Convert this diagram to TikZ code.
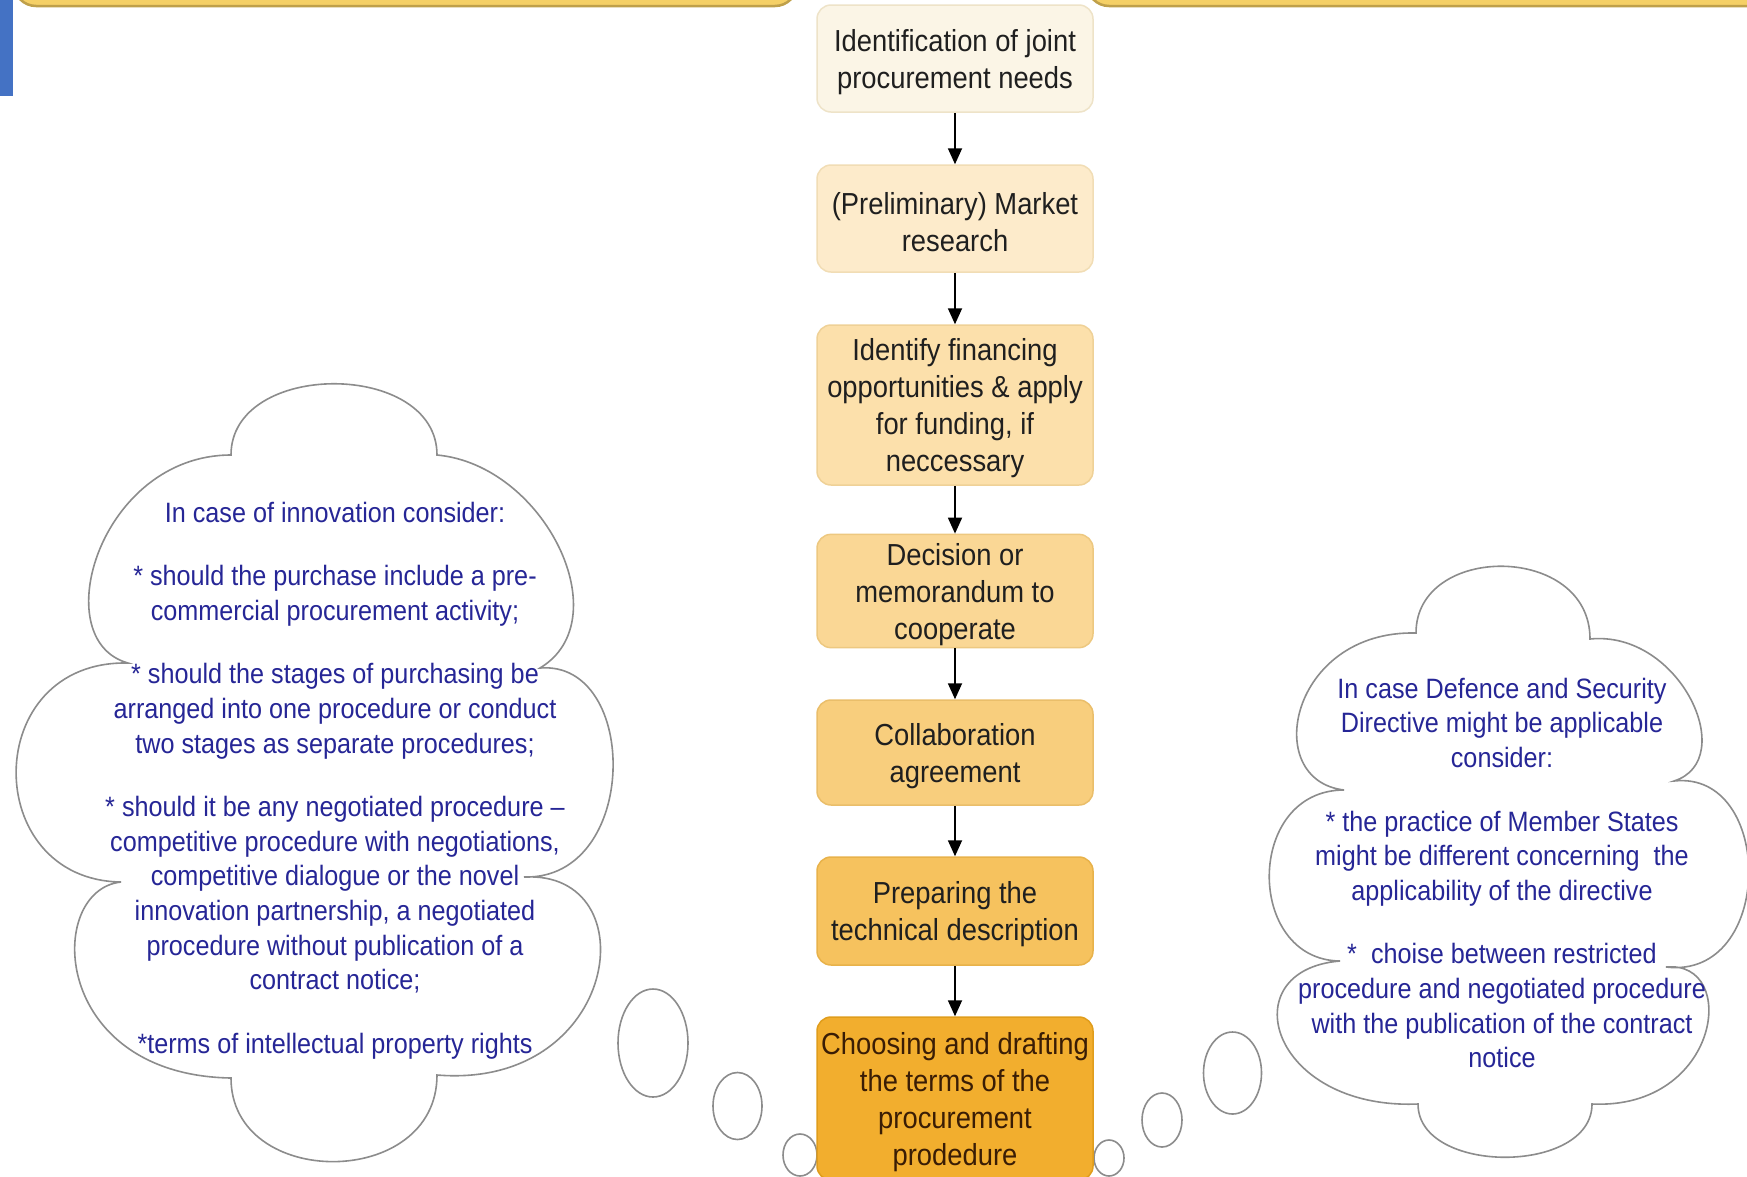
\documentclass[tikz,border=0pt]{standalone}
\usepackage{fontspec}
\setmainfont{Liberation Sans}[FakeStretch=0.9]
\usetikzlibrary{arrows.meta}

% step fills, lightest at the top, darkest at the bottom
\definecolor{fa}{HTML}{FBF5E6}\definecolor{da}{HTML}{EEE3C8}
\definecolor{fb}{HTML}{FDEBCB}\definecolor{db}{HTML}{F1DDB5}
\definecolor{fc}{HTML}{FCE0AB}\definecolor{dc}{HTML}{EFD197}
\definecolor{fd}{HTML}{FAD795}\definecolor{dd}{HTML}{EDC880}
\definecolor{fe}{HTML}{F8CE7D}\definecolor{de}{HTML}{EABE6A}
\definecolor{ff}{HTML}{F6C25E}\definecolor{df}{HTML}{E8B24A}
\definecolor{fg}{HTML}{F2AE2E}\definecolor{dg}{HTML}{E09D1C}
\definecolor{boxtext}{HTML}{1F1F1F}
\definecolor{lasttext}{HTML}{3A1D05}
\definecolor{noteblue}{RGB}{38,38,150}
\definecolor{cloudgray}{HTML}{8C8C8C}
\definecolor{bandgold}{HTML}{F5D066}
\definecolor{bandedge}{HTML}{BFA04A}
\definecolor{blueside}{HTML}{4472C4}

\newcommand{\bxfont}{\fontsize{30.4}{37}\selectfont}
\newcommand{\ntfont}{\fontsize{28}{34.6}\selectfont}
% strut that sets the height of the first line in a step box
\newcommand{\tp}{\rule{0pt}{29pt}}

\begin{document}
\begin{tikzpicture}[x=1pt,y=-1pt,
  stepbox/.style={draw, rounded corners=14pt, line width=1.5pt,
    minimum width=276pt, inner sep=2pt, align=center, font=\bxfont, text=boxtext},
  flow/.style={-{Triangle[length=16pt,width=14pt]}, line width=1.8pt, black},
  cloudline/.style={draw=cloudgray, line width=1.6pt, fill=white},
  note/.style={align=center, font=\ntfont, text=noteblue, inner sep=0pt},
  bubble/.style={draw=cloudgray, line width=1.6pt, fill=white}]

\useasboundingbox (0,0) rectangle (1747,1176);
\clip (0,0) rectangle (1747,1176);
\fill[white] (0,0) rectangle (1747,1176);

% gold bars along the top edge and the blue tab at the left
\draw[fill=bandgold, draw=bandedge, line width=2.5pt, rounded corners=22pt]
  (14,-60) rectangle (797,6);
\draw[fill=bandgold, draw=bandedge, line width=2.5pt, rounded corners=22pt]
  (1087,-60) rectangle (1790,6);
\fill[blueside] (0,0) rectangle (13,96);

% left thought cloud
\draw[cloudline] (231,455) .. controls (231,360) and (437,360) .. (437,455)
  .. controls (545,465) and (620,620) .. (540,668)
  .. controls (640,660) and (640,880) .. (524,877)
  .. controls (650,870) and (620,1090) .. (437,1075)
  .. controls (437,1190) and (231,1190) .. (231,1078)
  .. controls (50,1075) and (45,890) .. (121,882)
  .. controls (-20,880) and (-20,660) .. (128,663)
  .. controls (45,640) and (100,455) .. (231,455) -- cycle;

% right thought cloud
\draw[cloudline] (1416,633) .. controls (1416,543) and (1590,543) .. (1590,639)
  .. controls (1680,630) and (1740,760) .. (1674,781)
  .. controls (1775,770) and (1775,980) .. (1666,967)
  .. controls (1740,960) and (1720,1110) .. (1592,1104)
  .. controls (1592,1175) and (1418,1175) .. (1418,1104)
  .. controls (1270,1110) and (1230,970) .. (1340,961)
  .. controls (1245,960) and (1245,790) .. (1344,790)
  .. controls (1260,780) and (1290,630) .. (1416,633) -- cycle;

% thought bubbles trailing towards the last step
\draw[bubble] (653,1043) ellipse [x radius=35, y radius=54];
\draw[bubble] (737.5,1106) ellipse [x radius=24.5, y radius=33.5];
\draw[bubble] (800,1155) ellipse [x radius=17, y radius=21];
\draw[bubble] (1232.5,1073) ellipse [x radius=29, y radius=41];
\draw[bubble] (1162,1120) ellipse [x radius=20, y radius=27];
\draw[bubble] (1109,1158) ellipse [x radius=15, y radius=18];

% process steps
\node[stepbox, fill=fa, draw=da, minimum height=107pt] (s1) at (955,58.5)
  {\tp Identification of joint\\procurement needs};
\node[stepbox, fill=fb, draw=db, minimum height=107pt] (s2) at (955,218.5)
  {\tp(Preliminary) Market\\research};
\node[stepbox, fill=fc, draw=dc, minimum height=160pt] (s3) at (955,405)
  {\tp Identify financing\\opportunities \& apply\\for funding, if\\neccessary};
\node[stepbox, fill=fd, draw=dd, minimum height=108pt] (s4) at (955,591)
  {\tp Decision or\\memorandum to\\cooperate};
\node[stepbox, fill=fe, draw=de, minimum height=105pt] (s5) at (955,752.5)
  {\tp Collaboration\\agreement};
\node[stepbox, fill=ff, draw=df, minimum height=108pt] (s6) at (955,911)
  {\tp Preparing the\\technical description};
\node[stepbox, fill=fg, draw=dg, minimum height=163pt, text=lasttext] (s7) at (955,1098.5)
  {\tp Choosing and drafting\\the terms of the\\procurement\\prodedure};

\draw[flow] (s1.south) -- (s2.north);
\draw[flow] (s2.south) -- (s3.north);
\draw[flow] (s3.south) -- (s4.north);
\draw[flow] (s4.south) -- (s5.north);
\draw[flow] (s5.south) -- (s6.north);
\draw[flow] (s6.south) -- (s7.north);

% cloud notes
\node[note] (innov) at (335,780.5)
  {In case of innovation consider:\\[29pt]
   * should the purchase include a pre-\\commercial procurement activity;\\[29pt]
   * should the stages of purchasing be\\arranged into one procedure or conduct\\two stages as separate procedures;\\[29pt]
   * should it be any negotiated procedure –\\competitive procedure with negotiations,\\competitive dialogue or the novel\\innovation partnership, a negotiated\\procedure without publication of a\\contract notice;\\[29pt]
   *terms of intellectual property rights};

\node[note] (defence) at (1502,873)
  {In case Defence and Security\\Directive might be applicable\\consider:\\[29pt]
   * the practice of Member States\\might be different concerning~ the\\applicability of the directive\\[29pt]
   *~ choise between restricted\\procedure and negotiated procedure\\with the publication of the contract\\notice};

\end{tikzpicture}
\end{document}
